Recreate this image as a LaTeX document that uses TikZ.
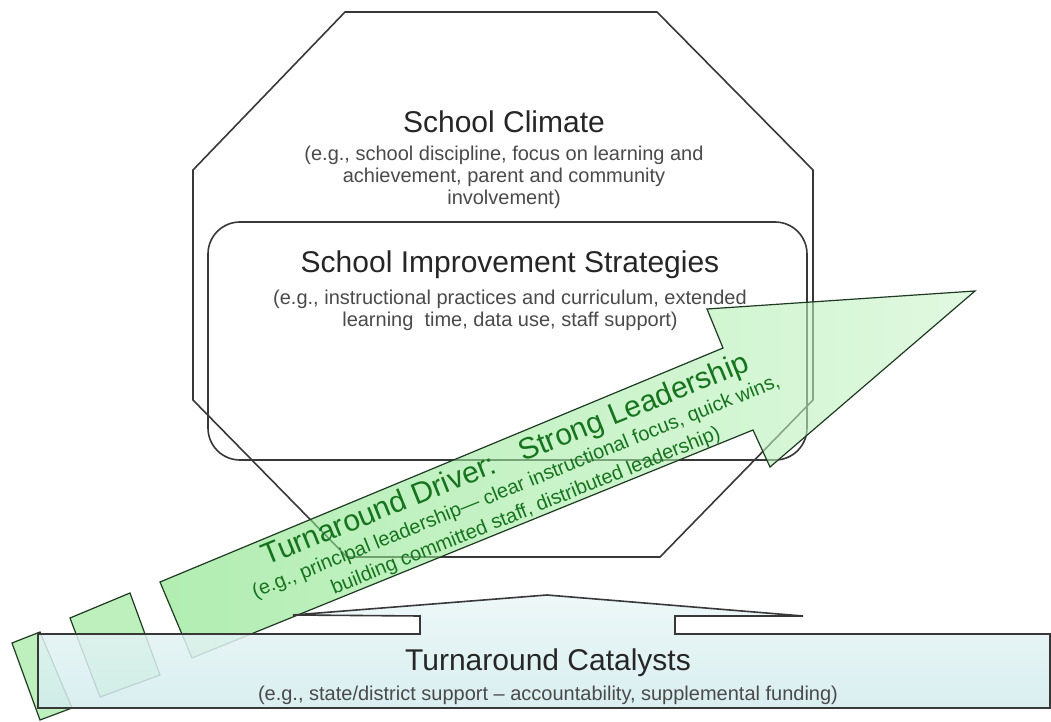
\documentclass[tikz,border=0pt]{standalone}
\usepackage{fontspec}
\setmainfont{Liberation Sans}
\usetikzlibrary{positioning}
\definecolor{edgegrey}{HTML}{383838}
\definecolor{titlegrey}{HTML}{262626}
\definecolor{notegrey}{HTML}{4A4A4A}
\definecolor{drivergreen}{HTML}{7FE27F}
\definecolor{driverpale}{HTML}{CDF5CD}
\definecolor{driverink}{HTML}{17741E}
\definecolor{driveredge}{HTML}{1F3A22}
\definecolor{catalystblue}{HTML}{D3ECEE}

\begin{document}
\begin{tikzpicture}
    [x=0.5pt,y=-0.5pt,
     outline/.style={draw=edgegrey,line width=0.8pt},
     heading/.style={inner sep=0pt,text=titlegrey,font=\fontsize{15}{18}\selectfont},
     note/.style={inner sep=0pt,align=center,text=notegrey,font=\fontsize{10}{11}\selectfont},
     driver/.style={draw=driveredge,line width=0.6pt,left color=drivergreen,right color=driverpale,fill opacity=0.6},
     trail/.style={draw=driveredge,line width=0.6pt,fill=drivergreen,fill opacity=0.5}]
    \fill [white] (0,0) rectangle (1051,722);
    \useasboundingbox (0,0) rectangle (1051,722);
    \draw [outline] (345,12) -- (657,12) -- (813,170) -- (813,400) -- (660,557)
      -- (347,557) -- (193,400) -- (193,170) -- cycle;
    \draw [outline,rounded corners=16pt] (208,222) rectangle (807,460);
    \node [heading] (climate) at (504,122) {School Climate};
    \node [note] (climatenote) [below=6pt of climate]
      {(e.g., school discipline, focus on learning and\\achievement, parent and community\\involvement)};
    \node [heading] (strategies) at (510,265) {School Improvement Strategies};
    \node [note] (strategiesnote) [below=5pt of strategies]
      {(e.g., instructional practices and curriculum, extended\\learning~ time, data use, staff support)};
    \draw [driver] (160,582) -- (723,348) -- (707,309) -- (975,291) -- (770,467)
      -- (753,430) -- (192,658) -- cycle;
    \node [rotate=22,align=center,inner sep=0pt,text=driverink,font=\fontsize{10}{13}\selectfont]
      (drivertext) at (515,484)
      {{\fontsize{15}{18}\selectfont Turnaround Driver:\hspace{0.9em}Strong Leadership}\\
       (e.g., principal leadership— clear instructional focus, quick wins,\\
       building committed staff, distributed leadership)};
    \draw [trail] (70,618) -- (130,593) -- (160,675) -- (100,697) -- cycle;
    \draw [trail] (12,643) -- (40,632) -- (72,708) -- (40,720) -- cycle;
    \draw [outline,top color=catalystblue!45!white,bottom color=catalystblue,fill opacity=0.85]
      (38,634) -- (420,634) -- (420,616) -- (293,615) -- (547,595) -- (803,616)
      -- (675,616) -- (675,634) -- (1050,634) -- (1050,708) -- (38,708) -- cycle;
    \node [heading] (catalysts) at (548,663) {Turnaround Catalysts};
    \node [note] (catalystsnote) [below=4pt of catalysts]
      {(e.g., state/district support – accountability, supplemental funding)};
\end{tikzpicture}
\end{document}
